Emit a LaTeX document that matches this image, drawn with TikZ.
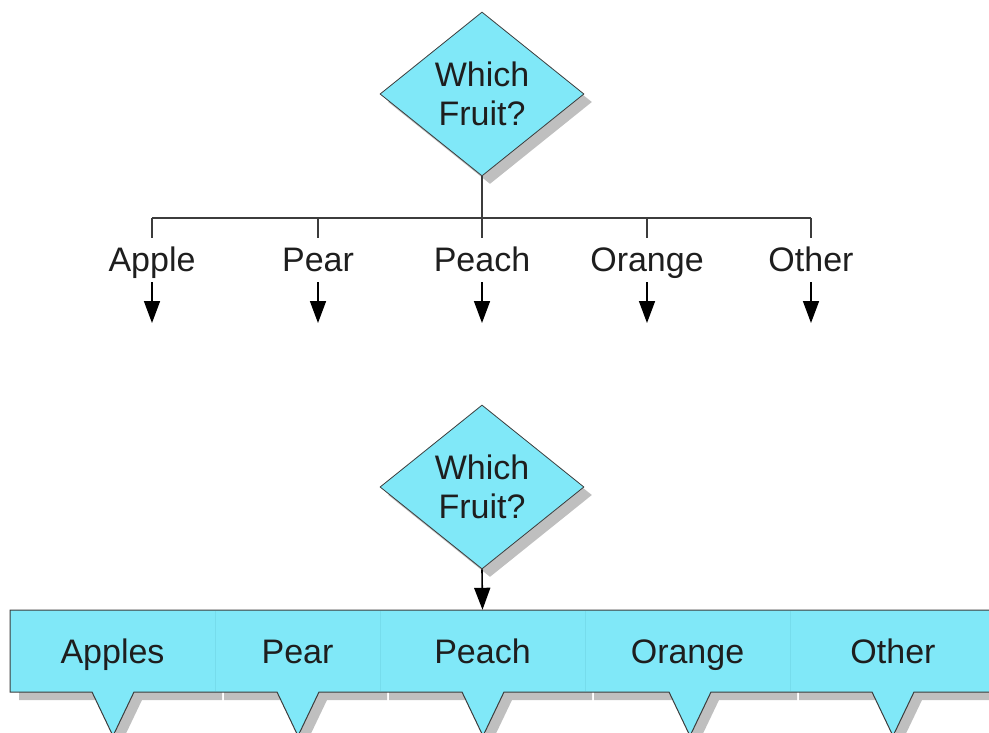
\documentclass[tikz,border=0pt]{standalone}
\usepackage{fontspec}
\setmainfont{Liberation Sans}
\usetikzlibrary{shapes.geometric,arrows.meta,shadows}
\definecolor{cyanfill}{RGB}{128,232,248}
\definecolor{txt}{RGB}{30,30,30}
\definecolor{edgec}{RGB}{60,60,60}
\definecolor{sepc}{RGB}{118,220,236}
\newcommand{\barsec}[3]{(#1,610) -- (#2,610) -- (#2,692) -- (#3+21,692) -- (#3,736) -- (#3-21,692) -- (#1,692) -- cycle}
\begin{document}
\begin{tikzpicture}[x=1pt,y=-1pt,
  decision/.style={diamond, aspect=1.23, minimum width=204pt, minimum height=164pt,
    inner sep=0pt, fill=cyanfill, draw=edgec, line width=0.8pt, align=center,
    font=\fontsize{34}{39}\selectfont, text=txt,
    drop shadow={shadow xshift=8pt, shadow yshift=-8pt, fill=black, opacity=0.25}},
  lab/.style={font=\fontsize{34}{40}\selectfont, text=txt, inner sep=0pt,
    text height=34pt, text depth=10pt},
  secbox/.style={lab, rectangle, minimum height=82pt},
  conn/.style={draw=edgec, line width=1.6pt},
  arr/.style={conn, -{Triangle[width=16pt,length=22pt]}, black},
  barline/.style={draw=edgec, line width=1pt},
]
\useasboundingbox (0,0) rectangle (989,733);
\clip (0,0) rectangle (989,733);

% ---------- top diagram ----------
\node[decision] (d1) at (482,94) {Which\\Fruit?};
\coordinate (j1) at (482,218);
\foreach \n/\x/\t in {1/152/Apple,2/318/Pear,3/482/Peach,4/647/Orange,5/811/Other}{
  \coordinate (h\n) at (\x,218);
  \node[lab] (l\n) at (\x,260) {\t};
  \coordinate (e\n) at (\x,323);
}
\draw[conn] (d1.south) -- (j1);
\draw[conn] (h1) -- (h5);
\foreach \n in {1,...,5}{
  \draw[conn] (h\n) -- (l\n.north);
  \draw[arr] (l\n.south) -- (e\n);
}

% ---------- bottom diagram ----------
\node[decision] (d2) at (482,487) {Which\\Fruit?};

% shadows
\foreach \l/\r/\c in {10/215/113,215/380/298,380/585/483,585/790/690,790/1000/893}{
  \fill[black, opacity=0.25, shift={(8,8)}] \barsec{\l+1}{\r-1}{\c};
}
% fills
\foreach \l/\r/\c in {10/215/113,215/380/298,380/585/483,585/790/690,790/1000/893}{
  \fill[cyanfill] \barsec{\l}{\r}{\c};
}
% separators
\foreach \x in {215,380,585,790}{
  \draw[sepc, line width=0.8pt] (\x,611) -- (\x,691);
}
% outline
\draw[barline] (1000,610) -- (10,610) -- (10,692)
  -- (92,692) -- (113,736) -- (134,692)
  -- (277,692) -- (298,736) -- (319,692)
  -- (462,692) -- (483,736) -- (504,692)
  -- (669,692) -- (690,736) -- (711,692)
  -- (872,692) -- (893,736) -- (914,692)
  -- (1000,692);

% section labels
\node[secbox, minimum width=205pt] (s1) at (112.5,651) {Apples};
\node[secbox, minimum width=165pt] (s2) at (297.5,651) {Pear};
\node[secbox, minimum width=205pt] (s3) at (482.5,651) {Peach};
\node[secbox, minimum width=205pt] (s4) at (687.5,651) {Orange};
\node[secbox, minimum width=205pt] (s5) at (893,651) {Other};

\draw[arr] (d2.south) -- (s3.north);
\end{tikzpicture}
\end{document}
